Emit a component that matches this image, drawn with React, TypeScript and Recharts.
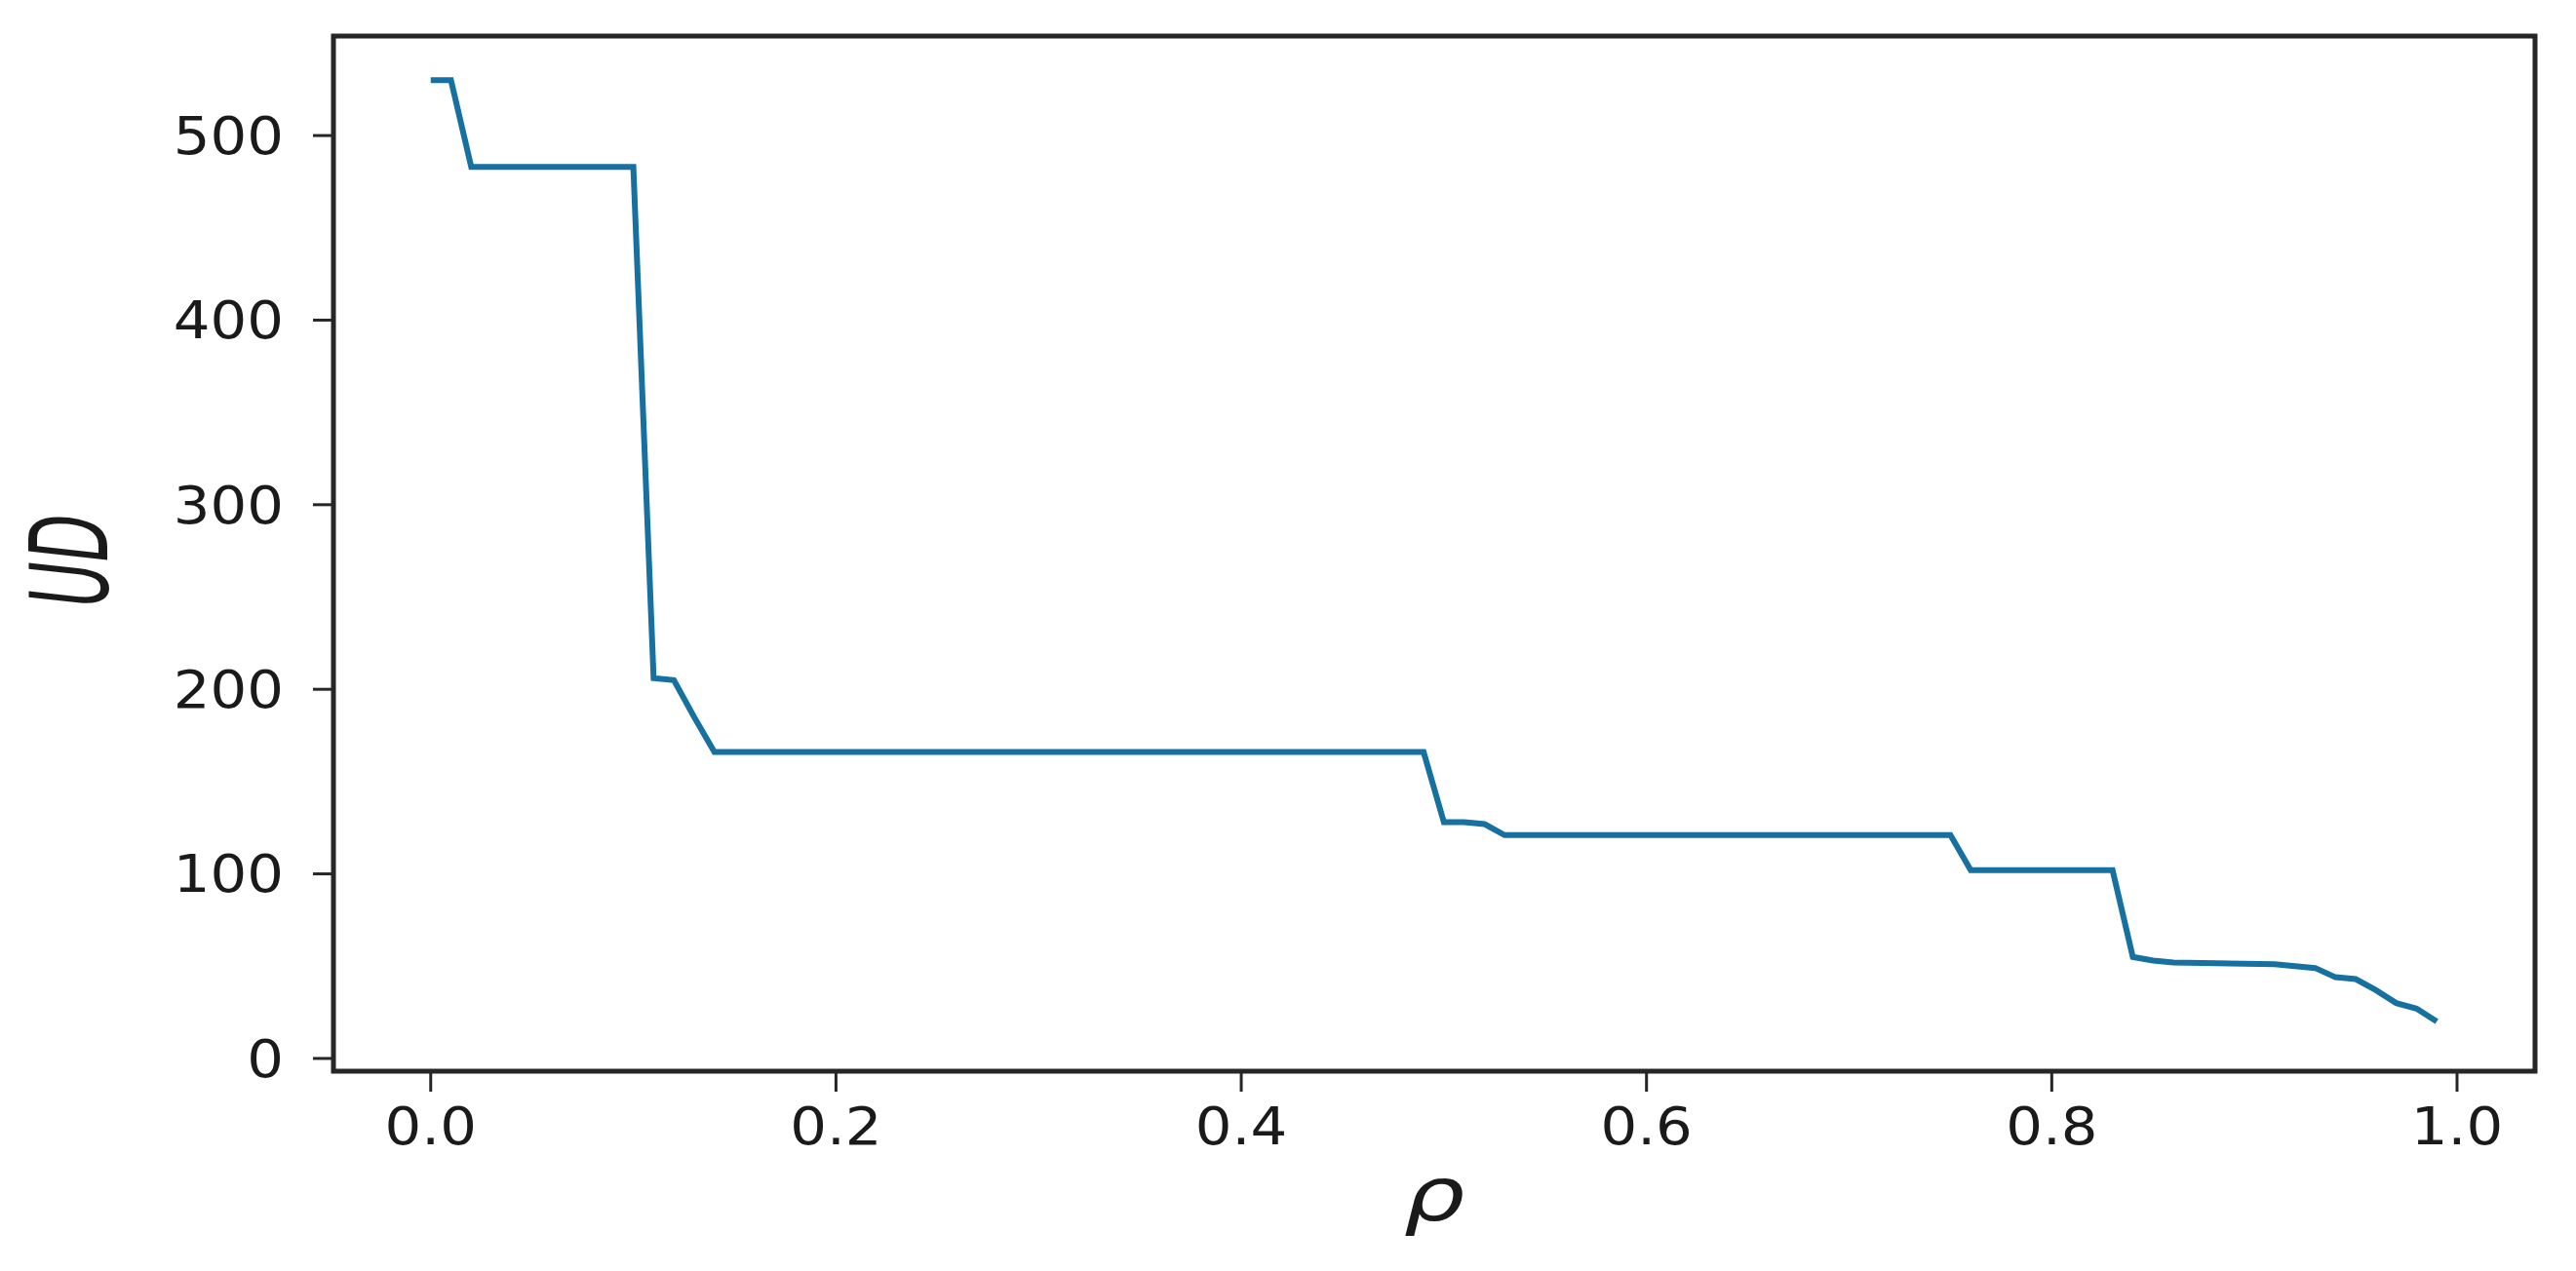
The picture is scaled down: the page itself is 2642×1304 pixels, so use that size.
import { LineChart, Line, XAxis, YAxis, ReferenceArea } from "recharts";

// breakpoints of the UD(rho) curve
const rho = [0, 0.01, 0.02, 0.1, 0.11, 0.12, 0.13, 0.14, 0.49, 0.5, 0.51, 0.52, 0.53, 0.75, 0.76, 0.83, 0.84, 0.85, 0.86, 0.91, 0.92, 0.93, 0.94, 0.95, 0.96, 0.97, 0.98, 0.99];
const ud = [530, 530, 483, 483, 206, 205, 185, 166, 166, 128, 128, 127, 121, 121, 102, 102, 55, 53, 52, 51, 50, 49, 44, 43, 37, 30, 27, 20];

const xTicks = [0, 0.2, 0.4, 0.6, 0.8, 1.0];
const yTicks = [0, 100, 200, 300, 400, 500];

const xDomain: [number, number] = [-0.048, 1.0385];
const yDomain: [number, number] = [-6.9, 553.9];

const data = rho.map((r, i) => ({ rho: r, ud: ud[i] }));

const font = "DejaVu Sans";
const ink = "#1a1a1a";

const XTick = (props: any) => {
   const { x, y, payload } = props;
   return (
      <g transform={`translate(${x},${y}) scale(1.12,1)`}>
         <text x={0} y={0} dy="0.71em" textAnchor="middle" fontSize={53} fontFamily={font} fill={ink}>
            {Number(payload.value).toFixed(1)}
         </text>
      </g>
   );
};

const YTick = (props: any) => {
   const { x, y, payload } = props;
   return (
      <g transform={`translate(${x},${y}) scale(1.12,1)`}>
         <text x={0} y={0} dy="0.355em" textAnchor="end" fontSize={53} fontFamily={font} fill={ink}>
            {payload.value}
         </text>
      </g>
   );
};

export default function App() {
   return (
      <div style={{ position: "absolute", left: 0, top: 0, width: 2642, height: 1304, background: "#fff" }}>
         <LineChart width={2642} height={1304} data={data} margin={{ top: 37, right: 42, bottom: 0, left: 0 }}>
            <ReferenceArea
               x1={xDomain[0]}
               x2={xDomain[1]}
               y1={yDomain[0]}
               y2={yDomain[1]}
               fill="none"
               stroke="#262626"
               strokeWidth={5}
               ifOverflow="visible"
            />
            <XAxis
               dataKey="rho"
               type="number"
               domain={xDomain}
               allowDataOverflow
               ticks={xTicks}
               height={205}
               axisLine={false}
               tickSize={21}
               tickMargin={16}
               tickLine={{ stroke: "#262626", strokeWidth: 3 }}
               tick={<XTick />}
               label={{
                  content: () => (
                     <g transform="translate(1471,1252) scale(1.3,1)">
                        <text x={0} y={0} textAnchor="middle" fontSize={76} fontStyle="italic" fontFamily={font} fill={ink}>
                           ρ
                        </text>
                     </g>
                  ),
               }}
            />
            <YAxis
               type="number"
               domain={yDomain}
               allowDataOverflow
               ticks={yTicks}
               width={342}
               axisLine={false}
               tickSize={21}
               tickMargin={30}
               tickLine={{ stroke: "#262626", strokeWidth: 3 }}
               tick={<YTick />}
               label={{
                  content: () => (
                     <g transform="translate(110,575) rotate(-90) scale(0.57,1)">
                        <text x={0} y={0} textAnchor="middle" fontSize={111} fontStyle="italic" fontFamily={font} fill={ink}>
                           UD
                        </text>
                     </g>
                  ),
               }}
            />
            <Line
               type="linear"
               dataKey="ud"
               stroke="#1670a0"
               strokeWidth={6}
               dot={false}
               activeDot={false}
               isAnimationActive={false}
            />
         </LineChart>
      </div>
   );
}
